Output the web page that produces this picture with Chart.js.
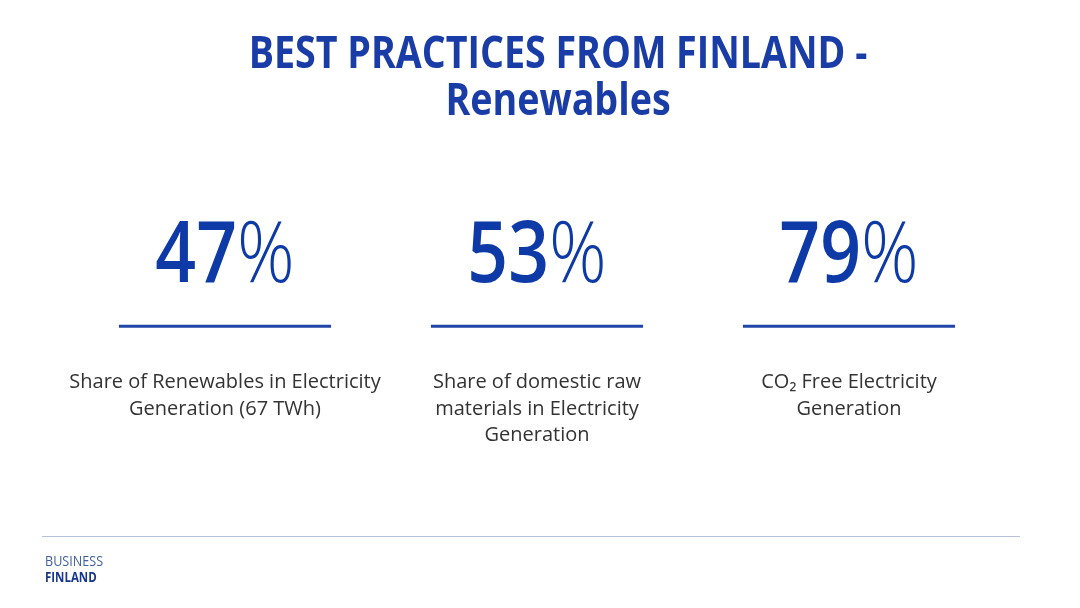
<!DOCTYPE html>
<html>
<head>
<meta charset="utf-8">
<title>Best practices from Finland - Renewables</title>
<script src="https://cdn.jsdelivr.net/npm/chart.js@4.4.1/dist/chart.umd.min.js"></script>
<style>
  html, body { margin: 0; padding: 0; background: #ffffff; }
  .slide { position: relative; width: 1080px; height: 608px; }
</style>
</head>
<body>
<div class="slide"><canvas id="myChart"></canvas></div>
<script>
// slide data
const titleLines = ['BEST PRACTICES FROM FINLAND -', 'Renewables'];
const categories = [
    ['Share of Renewables in Electricity', 'Generation (67 TWh)'],
    ['Share of domestic raw', 'materials in Electricity', 'Generation'],
    ['CO\u2082 Free Electricity', 'Generation']
];
const shares = [47, 53, 79];
const footerLines = ['BUSINESS', 'FINLAND'];

const blue = '#1a3ca6';
const numberBlue = '#0e3aa8';

// draws text squeezed horizontally (the slide uses condensed faces)
function squeezeText(ctx, text, x, y, font, color, sx, align) {
    ctx.save();
    ctx.font = font;
    ctx.fillStyle = color;
    ctx.textAlign = 'left';
    ctx.textBaseline = 'alphabetic';
    const w = ctx.measureText(text).width * sx;
    const left = align === 'center' ? x - w / 2 : x;
    ctx.translate(left, y);
    ctx.scale(sx, 1);
    ctx.fillText(text, 0, 0);
    ctx.restore();
}

const slidePlugin = {
    id: 'slide',
    afterDatasetsDraw(chart) {
        const ctx = chart.ctx;
        const area = chart.chartArea;
        const meta = chart.getDatasetMeta(0);

        // big percentages + underline per column
        meta.data.forEach((bar, i) => {
            const digits = String(shares[i]);
            const sx = 0.84;
            const digitFont = '600 85px "Open Sans"';
            const pctFont = '300 85px "Open Sans"';
            ctx.save();
            ctx.font = digitFont;
            const wd = ctx.measureText(digits).width * sx;
            ctx.font = pctFont;
            const wp = ctx.measureText('%').width * sx;
            ctx.restore();
            const left = bar.x - (wd + wp) / 2;
            const base = area.bottom - 68;
            squeezeText(ctx, digits, left, base, digitFont, numberBlue, sx, 'left');
            squeezeText(ctx, '%', left + wd, base, pctFont, numberBlue, sx, 'left');

            ctx.save();
            ctx.strokeStyle = '#2146a8';
            ctx.lineWidth = 3;
            ctx.beginPath();
            ctx.moveTo(bar.x - bar.width / 2, area.bottom - 24);
            ctx.lineTo(bar.x + bar.width / 2, area.bottom - 24);
            ctx.stroke();
            ctx.restore();
        });
    },
    afterDraw(chart) {
        const ctx = chart.ctx;
        const cx = 558;
        squeezeText(ctx, titleLines[0], cx, 68, 'bold 44px "Open Sans"', blue, 0.855, 'center');
        squeezeText(ctx, titleLines[1], cx, 115, 'bold 44px "Open Sans"', blue, 0.855, 'center');

        // footer rule and logo text
        ctx.save();
        ctx.strokeStyle = '#b4c2d9';
        ctx.lineWidth = 1;
        ctx.beginPath();
        ctx.moveTo(42, 536.5);
        ctx.lineTo(1020, 536.5);
        ctx.stroke();
        ctx.restore();
        squeezeText(ctx, footerLines[0], 45, 566, '14px "Open Sans"', '#3f5ea3', 0.9, 'left');
        squeezeText(ctx, footerLines[1], 45, 582, 'bold 14px "Open Sans"', '#17378f', 0.82, 'left');
    }
};

const ctx = document.getElementById('myChart');

const slideChart = new Chart(ctx, {
    type: 'bar',
    data: {
        labels: categories,
        datasets: [
            {
                label: 'Share',
                data: shares,
                backgroundColor: 'rgba(0,0,0,0)',
                borderWidth: 0,
                barPercentage: 0.68,
                categoryPercentage: 1,
            }
        ]
    },
    options: {
        responsive: true,
        maintainAspectRatio: false,
        animation: false,
        layout: {
            padding: { left: 69, right: 75, top: 160, bottom: 148 }
        },
        plugins: {
            legend: { display: false },
            tooltip: { enabled: false },
            title: { display: false }
        },
        scales: {
            x: {
                grid: { display: false },
                border: { display: false },
                ticks: {
                    color: '#333333',
                    font: { family: '"Open Sans"', size: 20, lineHeight: 1.33 },
                    padding: 11,
                    maxRotation: 0,
                    minRotation: 0,
                    autoSkip: false
                }
            },
            y: {
                display: false,
                min: 0,
                max: 100
            }
        }
    },
    plugins: [slidePlugin]
});
</script>
</body>
</html>
